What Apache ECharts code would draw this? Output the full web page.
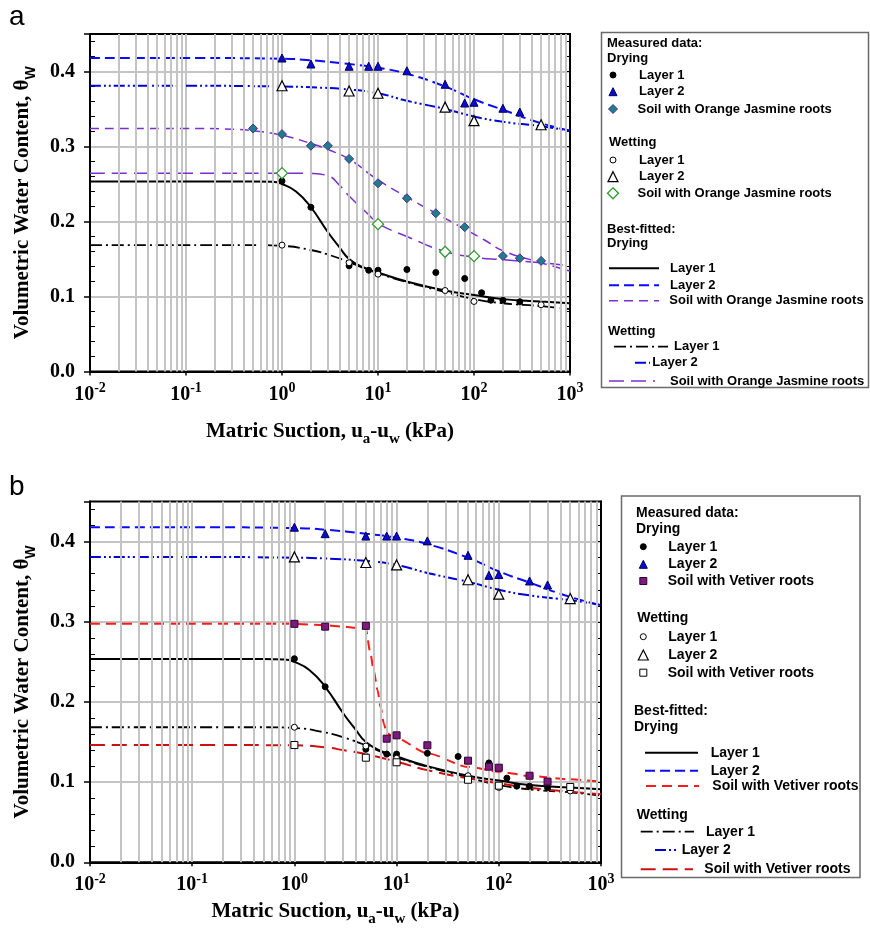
<!DOCTYPE html>
<html>
<head>
<meta charset="utf-8">
<script src="https://cdn.jsdelivr.net/npm/echarts@6/dist/echarts.min.js"></script>
<style>
  html, body { margin: 0; padding: 0; background: #fff; }
  #chart { width: 870px; height: 938px; }
</style>
</head>
<body>
<div id="chart"></div>
<script>
// ---- Measured data: suction (kPa) and volumetric water content ----
const layer1DryX = [1, 2, 5, 8, 10, 20, 40, 80, 120, 150, 200, 300];
const layer1DryY = [0.254, 0.219, 0.141, 0.135, 0.135, 0.136, 0.132, 0.124, 0.105, 0.095, 0.095, 0.093];
const layer2DryX = [1, 2, 5, 8, 10, 20, 50, 80, 100, 200, 300];
const layer2DryY = [0.418, 0.410, 0.407, 0.407, 0.407, 0.401, 0.383, 0.358, 0.359, 0.351, 0.346];
const jasmineDryX = [0.5, 1, 2, 3, 5, 10, 20, 40, 80, 200, 300, 500];
const jasmineDryY = [0.324, 0.3165, 0.301, 0.301, 0.2835, 0.251, 0.231, 0.211, 0.1925, 0.154, 0.151, 0.1475];
const vetiverDryX = [1, 2, 5, 8, 10, 20, 50, 80, 100, 200, 300];
const vetiverDryY = [0.2975, 0.294, 0.295, 0.1542, 0.1584, 0.146, 0.1268, 0.1193, 0.118, 0.108, 0.1006];

const layer1WetX = [1, 5, 10, 50, 100, 500];
const layer1WetY = [0.1685, 0.145, 0.1298, 0.108, 0.0934, 0.089];
const layer2WetX = [1, 5, 10, 50, 100, 500];
const layer2WetY = [0.381, 0.374, 0.371, 0.3525, 0.3345, 0.329];
const jasmineWetX = [1, 10, 50, 100];
const jasmineWetY = [0.2645, 0.1965, 0.1596, 0.1538];
const vetiverWetX = [1, 5, 10, 50, 100, 500];
const vetiverWetY = [0.1463, 0.1305, 0.1248, 0.103, 0.0956, 0.094];

// ---- Best-fitted curves ----
const fitL1DryX = [0.01, 0.1, 0.5, 0.8, 1, 1.4, 2, 3, 4, 5, 7, 10, 20, 50, 100, 200, 500, 1000];
const fitL1DryY = [0.2535, 0.2535, 0.2535, 0.253, 0.250, 0.240, 0.219, 0.186, 0.165, 0.150, 0.139, 0.132, 0.120, 0.108, 0.102, 0.0965, 0.0932, 0.0910];
const fitL2DryX = [0.01, 0.1, 1, 2, 5, 10, 20, 50, 100, 200, 500, 1000];
const fitL2DryY = [0.418, 0.418, 0.417, 0.415, 0.410, 0.405, 0.397, 0.380, 0.363, 0.349, 0.331, 0.321];
const fitJasmineDryX = [0.01, 0.1, 0.3, 0.5, 1, 2, 3, 5, 10, 20, 40, 80, 130, 200, 500, 1000];
const fitJasmineDryY = [0.324, 0.324, 0.323, 0.321, 0.315, 0.304, 0.296, 0.283, 0.2555, 0.2325, 0.211, 0.190, 0.175, 0.161, 0.145, 0.134];
const fitVetiverDryX = [0.01, 0.1, 1, 2, 3, 4, 5, 5.5, 6, 6.5, 7, 7.5, 8, 10, 20, 50, 100, 200, 500, 1000];
const fitVetiverDryY = [0.2975, 0.2975, 0.2975, 0.2957, 0.294, 0.2925, 0.2915, 0.263, 0.238, 0.215, 0.193, 0.173, 0.161, 0.1547, 0.136, 0.119, 0.113, 0.1077, 0.1035, 0.1006];

const fitL1WetX = [0.01, 0.1, 0.5, 1, 2, 3, 5, 7, 10, 20, 50, 100, 200, 500, 1000];
const fitL1WetY = [0.1685, 0.1685, 0.1685, 0.1675, 0.162, 0.156, 0.146, 0.138, 0.131, 0.119, 0.106, 0.0965, 0.091, 0.0872, 0.0832];
const fitL2WetX = [0.01, 0.1, 1, 2, 5, 10, 20, 50, 100, 200, 500, 1000];
const fitL2WetY = [0.381, 0.381, 0.380, 0.379, 0.376, 0.371, 0.361, 0.350, 0.340, 0.333, 0.327, 0.321];
const fitJasmineWetX = [0.01, 0.1, 1, 2, 3, 4, 5, 8, 10, 20, 50, 100, 200, 500, 1000];
const fitJasmineWetY = [0.2645, 0.2645, 0.2645, 0.264, 0.261, 0.248, 0.234, 0.209, 0.1975, 0.180, 0.160, 0.1525, 0.149, 0.145, 0.141];
const fitVetiverWetX = [0.01, 0.1, 1, 2, 3, 5, 10, 20, 50, 100, 200, 500, 1000];
const fitVetiverWetY = [0.1463, 0.1463, 0.146, 0.1435, 0.140, 0.135, 0.1255, 0.115, 0.1048, 0.0986, 0.093, 0.088, 0.0848];

// ---- Axis tick labels ----
const xTickExponents = [-2, -1, 0, 1, 2, 3];
const yTickLabels = ['0.0', '0.1', '0.2', '0.3', '0.4'];

const SERIF = '"Liberation Serif", "Times New Roman", serif';
const SANS = '"Liberation Sans", Arial, sans-serif';
const GRID_GRAY = '#c4c4c4';

const pairs = (xs, ys) => xs.map((x, i) => [x, ys[i]]);

// Marker looks, shared by the scatter series and the legend keys
const MK = {
  l1Dry: { shape: 'circle', size: 6, fill: '#000', stroke: '#000', lw: 1 },
  l2Dry: { shape: 'triangle', size: 8, fill: '#0a0ad0', stroke: '#000060', lw: 1 },
  jasDry: { shape: 'diamond', size: 9, fill: '#1d7f86', stroke: '#4a2a9a', lw: 1 },
  vetDry: { shape: 'rect', size: 7, fill: '#7d1a7d', stroke: '#300030', lw: 1 },
  l1Wet: { shape: 'circle', size: 6, fill: '#fff', stroke: '#000', lw: 1 },
  l2Wet: { shape: 'triangle', size: 10, fill: '#fff', stroke: '#000', lw: 1.2 },
  jasWet: { shape: 'diamond', size: 11, fill: '#fff', stroke: '#2c9c2c', lw: 1.3 },
  vetWet: { shape: 'rect', size: 7, fill: '#fff', stroke: '#000', lw: 1 }
};

// Curve looks, shared by the line series and the legend keys
const LN = {
  l1Dry: { color: '#000', width: 2, dash: 'solid' },
  l2Dry: { color: '#0a0aff', width: 2, dash: [10, 5] },
  jasDry: { color: '#7a2fd0', width: 1.5, dash: [9, 6] },
  vetDry: { color: '#ff1a1a', width: 2, dash: [10, 6] },
  l1Wet: { color: '#000', width: 1.8, dash: [12, 4, 2, 4] },
  l2Wet: { color: '#0000d8', width: 2, dash: [11, 3, 2, 3, 2, 3] },
  jasWet: { color: '#7a2fd0', width: 1.5, dash: [15, 7] },
  vetWet: { color: '#cc1010', width: 2, dash: [15, 7] }
};

function scatter(name, xs, ys, mk, xi, yi) {
  return {
    name, type: 'scatter', xAxisIndex: xi, yAxisIndex: yi, z: 5,
    data: pairs(xs, ys), symbol: mk.shape, symbolSize: mk.size,
    itemStyle: { color: mk.fill, borderColor: mk.stroke, borderWidth: mk.lw, opacity: 1 },
    emphasis: { disabled: true }
  };
}
function curve(name, xs, ys, ln, xi, yi, smooth, monotone) {
  return {
    name, type: 'line', xAxisIndex: xi, yAxisIndex: yi, z: 4,
    data: pairs(xs, ys), showSymbol: false, symbol: 'none',
    smooth: smooth === undefined ? 0.5 : smooth,
    smoothMonotone: monotone ? 'x' : null,
    lineStyle: { color: ln.color, width: ln.width, type: ln.dash },
    emphasis: { disabled: true }
  };
}

// Vertical grid lines at 2..9 within each decade
const minorDecadeLines = [];
for (let e = -2; e < 3; e++) {
  for (let m = 2; m <= 9; m++) minorDecadeLines.push({ xAxis: m * Math.pow(10, e) });
}
function decadeGrid(xi, yi) {
  return {
    name: 'grid-minor-' + xi, type: 'line', xAxisIndex: xi, yAxisIndex: yi, z: 1,
    data: [], silent: true,
    markLine: {
      silent: true, symbol: ['none', 'none'], label: { show: false }, animation: false,
      lineStyle: { color: GRID_GRAY, width: 2, type: 'solid' },
      emphasis: { disabled: true },
      data: minorDecadeLines
    }
  };
}

function xAxis(gridIndex, nameGap, namePad) {
  return {
    gridIndex, type: 'log', logBase: 10, min: 0.01, max: 1000, interval: 1,
    axisLine: { show: true, onZero: false, lineStyle: { color: '#000', width: 2 } },
    axisTick: { show: true, length: 4, lineStyle: { color: '#000', width: 1.5 } },
    minorTick: { show: false },
    splitLine: { show: true, showMinLine: false, showMaxLine: false, lineStyle: { color: GRID_GRAY, width: 2 } },
    axisLabel: {
      margin: 10,
      formatter: (v) => {
        const e = Math.round(Math.log10(v));
        return xTickExponents.indexOf(e) >= 0 ? '{b|10}{s|' + e + '}' : '';
      },
      rich: {
        b: { fontFamily: SERIF, fontWeight: 'bold', fontSize: 20, lineHeight: 26, color: '#000' },
        s: { fontFamily: SERIF, fontWeight: 'bold', fontSize: 14, lineHeight: 14, verticalAlign: 'top', color: '#000' }
      }
    },
    name: 'Matric Suction, u{sub|a}-u{sub|w} (kPa)',
    nameLocation: 'middle', nameGap,
    nameTextStyle: {
      fontFamily: SERIF, fontWeight: 'bold', fontSize: 21, color: '#000', lineHeight: 30,
      padding: namePad,
      rich: { sub: { fontFamily: SERIF, fontWeight: 'bold', fontSize: 15, lineHeight: 14, verticalAlign: 'bottom', color: '#000' } }
    }
  };
}

function yAxes(gridIndex) {
  const base = { gridIndex, type: 'value', min: 0, max: 0.45, interval: 0.1 };
  const minor = { show: true, splitNumber: 5, length: 5, lineStyle: { color: '#000', width: 1 } };
  return [
    Object.assign({}, base, {
      position: 'left',
      axisLine: { show: true, onZero: false, lineStyle: { color: '#000', width: 2 } },
      axisTick: { show: true, length: 6, lineStyle: { color: '#000', width: 1.5 } },
      splitLine: { show: true, showMinLine: false, showMaxLine: false, lineStyle: { color: GRID_GRAY, width: 2 } },
      axisLabel: {
        margin: 15, fontFamily: SERIF, fontWeight: 'bold', fontSize: 20, color: '#000',
        formatter: (v) => {
          const k = Math.round(v * 10);
          return Math.abs(v * 10 - k) < 1e-6 && yTickLabels[k] ? yTickLabels[k] : '';
        }
      },
      name: 'Volumetric Water Content, θ{sub|W}',
      nameLocation: 'middle', nameGap: 52,
      nameTextStyle: {
        fontFamily: SERIF, fontWeight: 'bold', fontSize: 21, color: '#000', lineHeight: 30,
        rich: { sub: { fontFamily: SANS, fontWeight: 'bold', fontSize: 14, lineHeight: 14, verticalAlign: 'bottom', color: '#000' } }
      }
    }),
    Object.assign({}, base, {
      position: 'left', axisLine: { show: false }, axisLabel: { show: false },
      axisTick: { show: false, inside: true }, minorTick: minor, splitLine: { show: false }
    }),
    Object.assign({}, base, {
      position: 'right',
      axisLine: { show: true, onZero: false, lineStyle: { color: '#000', width: 2 } },
      axisLabel: { show: false },
      axisTick: { show: true, inside: true, length: 5, lineStyle: { color: '#000', width: 1 } },
      minorTick: minor, splitLine: { show: false }
    })
  ];
}

// ---- Legend keys drawn as graphic elements ----
function markerEl(mk, cx, cy) {
  const s = mk.size, h = s / 2;
  const style = { fill: mk.fill, stroke: mk.stroke, lineWidth: mk.lw };
  if (mk.shape === 'circle') return { type: 'circle', shape: { cx, cy, r: h }, style };
  if (mk.shape === 'rect') return { type: 'rect', shape: { x: cx - h, y: cy - h, width: s, height: s }, style };
  if (mk.shape === 'triangle') return { type: 'polygon', shape: { points: [[cx, cy - h], [cx + h, cy + h], [cx - h, cy + h]] }, style };
  return { type: 'polygon', shape: { points: [[cx, cy - h], [cx + h, cy], [cx, cy + h], [cx - h, cy]] }, style };
}
function lineEl(ln, x1, x2, y) {
  return {
    type: 'line', shape: { x1, y1: y, x2, y2: y },
    style: { stroke: ln.color, lineWidth: ln.width, lineDash: ln.dash === 'solid' ? null : ln.dash }
  };
}
function textEl(text, x, y, size) {
  return {
    type: 'text', x, y,
    style: { text, fill: '#000', font: 'bold ' + size + 'px ' + SANS, verticalAlign: 'middle', align: 'left' }
  };
}

function legendA() {
  const fs = 13, els = [];
  els.push({ type: 'rect', shape: { x: 601.5, y: 32.5, width: 267, height: 355 }, style: { fill: '#fff', stroke: '#6a6a6a', lineWidth: 1.5 } });
  els.push(textEl('Measured data:', 607, 43, fs));
  els.push(textEl('Drying', 607, 58.5, fs));
  els.push(markerEl(MK.l1Dry, 613, 75)); els.push(textEl('Layer 1', 639, 75, fs));
  els.push(markerEl(MK.l2Dry, 613, 91.7)); els.push(textEl('Layer 2', 639, 91.7, fs));
  els.push(markerEl(MK.jasDry, 613, 109)); els.push(textEl('Soil with Orange Jasmine roots', 637.5, 109, fs));
  els.push(textEl('Wetting', 609, 142, fs));
  els.push(markerEl(MK.l1Wet, 613, 160)); els.push(textEl('Layer 1', 639, 160, fs));
  els.push(markerEl(MK.l2Wet, 613, 176.7)); els.push(textEl('Layer 2', 639, 176.7, fs));
  els.push(markerEl(MK.jasWet, 613, 193.3)); els.push(textEl('Soil with Orange Jasmine roots', 637.5, 193.3, fs));
  els.push(textEl('Best-fitted:', 607, 229, fs));
  els.push(textEl('Drying', 607, 243, fs));
  els.push(lineEl(LN.l1Dry, 609, 659, 268.3)); els.push(textEl('Layer 1', 670, 268.3, fs));
  els.push(lineEl(LN.l2Dry, 609, 659, 285.3)); els.push(textEl('Layer 2', 670, 285.3, fs));
  els.push(lineEl(LN.jasDry, 609, 659, 300.7)); els.push(textEl('Soil with Orange Jasmine roots', 669.3, 300.7, fs));
  els.push(textEl('Wetting', 608, 331, fs));
  els.push(lineEl(LN.l1Wet, 614, 668, 346.7)); els.push(textEl('Layer 1', 674, 346.7, fs));
  els.push(lineEl(LN.l2Wet, 635, 650, 362.7)); els.push(textEl('Layer 2', 652.3, 362.7, fs));
  els.push(lineEl(LN.jasWet, 609, 655, 381)); els.push(textEl('Soil with Orange Jasmine roots', 670, 381, fs));
  return els;
}
function legendB() {
  const fs = 14, els = [];
  els.push({ type: 'rect', shape: { x: 621.5, y: 496, width: 238.5, height: 381.5 }, style: { fill: '#fff', stroke: '#6a6a6a', lineWidth: 1.5 } });
  els.push(textEl('Measured data:', 636, 512.7, fs));
  els.push(textEl('Drying', 636, 529.3, fs));
  els.push(markerEl(MK.l1Dry, 643.3, 546.7)); els.push(textEl('Layer 1', 668.3, 546.7, fs));
  els.push(markerEl(MK.l2Dry, 643.3, 564.3)); els.push(textEl('Layer 2', 668.3, 564.3, fs));
  els.push(markerEl(MK.vetDry, 643.3, 581)); els.push(textEl('Soil with Vetiver roots', 667.7, 581, fs));
  els.push(textEl('Wetting', 637.3, 617.7, fs));
  els.push(markerEl(MK.l1Wet, 643.3, 636.7)); els.push(textEl('Layer 1', 668.3, 636.7, fs));
  els.push(markerEl(MK.l2Wet, 643.3, 655)); els.push(textEl('Layer 2', 668.3, 655, fs));
  els.push(markerEl(MK.vetWet, 643.3, 672.7)); els.push(textEl('Soil with Vetiver roots', 667.7, 672.7, fs));
  els.push(textEl('Best-fitted:', 634, 710.7, fs));
  els.push(textEl('Drying', 634, 726.7, fs));
  els.push(lineEl(LN.l1Dry, 645, 698, 752.7)); els.push(textEl('Layer 1', 710.7, 752.7, fs));
  els.push(lineEl(LN.l2Dry, 645, 698, 770.7)); els.push(textEl('Layer 2', 710.7, 770.7, fs));
  els.push(lineEl(LN.vetDry, 646, 699, 786)); els.push(textEl('Soil with Vetiver roots', 712.3, 786, fs));
  els.push(textEl('Wetting', 636.7, 815, fs));
  els.push(lineEl(LN.l1Wet, 640.7, 694, 831.7)); els.push(textEl('Layer 1', 706, 831.7, fs));
  els.push(lineEl(LN.l2Wet, 655, 677, 850)); els.push(textEl('Layer 2', 681.7, 850, fs));
  els.push(lineEl(LN.vetWet, 640.7, 693, 869.3)); els.push(textEl('Soil with Vetiver roots', 704.3, 869.3, fs));
  return els;
}

const series = [
  // panel a
  decadeGrid(0, 0),
  curve('a · Drying fit · Layer 1', fitL1DryX, fitL1DryY, LN.l1Dry, 0, 0),
  curve('a · Drying fit · Layer 2', fitL2DryX, fitL2DryY, LN.l2Dry, 0, 0),
  curve('a · Drying fit · Orange Jasmine', fitJasmineDryX, fitJasmineDryY, LN.jasDry, 0, 0),
  curve('a · Wetting fit · Layer 1', fitL1WetX, fitL1WetY, LN.l1Wet, 0, 0),
  curve('a · Wetting fit · Layer 2', fitL2WetX, fitL2WetY, LN.l2Wet, 0, 0),
  curve('a · Wetting fit · Orange Jasmine', fitJasmineWetX, fitJasmineWetY, LN.jasWet, 0, 0),
  scatter('a · Drying · Layer 1', layer1DryX, layer1DryY, MK.l1Dry, 0, 0),
  scatter('a · Drying · Layer 2', layer2DryX, layer2DryY, MK.l2Dry, 0, 0),
  scatter('a · Drying · Orange Jasmine', jasmineDryX, jasmineDryY, MK.jasDry, 0, 0),
  scatter('a · Wetting · Layer 1', layer1WetX, layer1WetY, MK.l1Wet, 0, 0),
  scatter('a · Wetting · Layer 2', layer2WetX, layer2WetY, MK.l2Wet, 0, 0),
  scatter('a · Wetting · Orange Jasmine', jasmineWetX, jasmineWetY, MK.jasWet, 0, 0),
  // panel b
  decadeGrid(1, 3),
  curve('b · Drying fit · Layer 1', fitL1DryX, fitL1DryY, LN.l1Dry, 1, 3),
  curve('b · Drying fit · Layer 2', fitL2DryX, fitL2DryY, LN.l2Dry, 1, 3),
  curve('b · Drying fit · Vetiver', fitVetiverDryX, fitVetiverDryY, LN.vetDry, 1, 3, 0.25, true),
  curve('b · Wetting fit · Layer 1', fitL1WetX, fitL1WetY, LN.l1Wet, 1, 3),
  curve('b · Wetting fit · Layer 2', fitL2WetX, fitL2WetY, LN.l2Wet, 1, 3),
  curve('b · Wetting fit · Vetiver', fitVetiverWetX, fitVetiverWetY, LN.vetWet, 1, 3),
  scatter('b · Drying · Layer 1', layer1DryX, layer1DryY, MK.l1Dry, 1, 3),
  scatter('b · Drying · Layer 2', layer2DryX, layer2DryY, MK.l2Dry, 1, 3),
  scatter('b · Drying · Vetiver', vetiverDryX, vetiverDryY, MK.vetDry, 1, 3),
  scatter('b · Wetting · Layer 1', layer1WetX, layer1WetY, MK.l1Wet, 1, 3),
  scatter('b · Wetting · Layer 2', layer2WetX, layer2WetY, MK.l2Wet, 1, 3),
  scatter('b · Wetting · Vetiver', vetiverWetX, vetiverWetY, MK.vetWet, 1, 3)
];

const chart = echarts.init(document.getElementById('chart'), null, { renderer: 'canvas' });
chart.setOption({
  animation: false,
  backgroundColor: '#fff',
  grid: [
    { left: 90, top: 34, width: 480, height: 337.5, show: true, borderColor: '#000', borderWidth: 2, backgroundColor: 'transparent' },
    { left: 90, top: 501.6, width: 511, height: 360.7, show: true, borderColor: '#000', borderWidth: 2, backgroundColor: 'transparent' }
  ],
  xAxis: [xAxis(0, 45, [0, 0, 0, 0]), xAxis(1, 26, [0, 20, 0, 0])],
  yAxis: yAxes(0).concat(yAxes(1)),
  series,
  graphic: [
    { type: 'text', x: 9, y: 17, style: { text: 'a', font: '28px ' + SANS, fill: '#000', verticalAlign: 'middle' } },
    { type: 'text', x: 9, y: 487, style: { text: 'b', font: '28px ' + SANS, fill: '#000', verticalAlign: 'middle' } }
  ].concat(legendA(), legendB())
});
</script>
</body>
</html>
